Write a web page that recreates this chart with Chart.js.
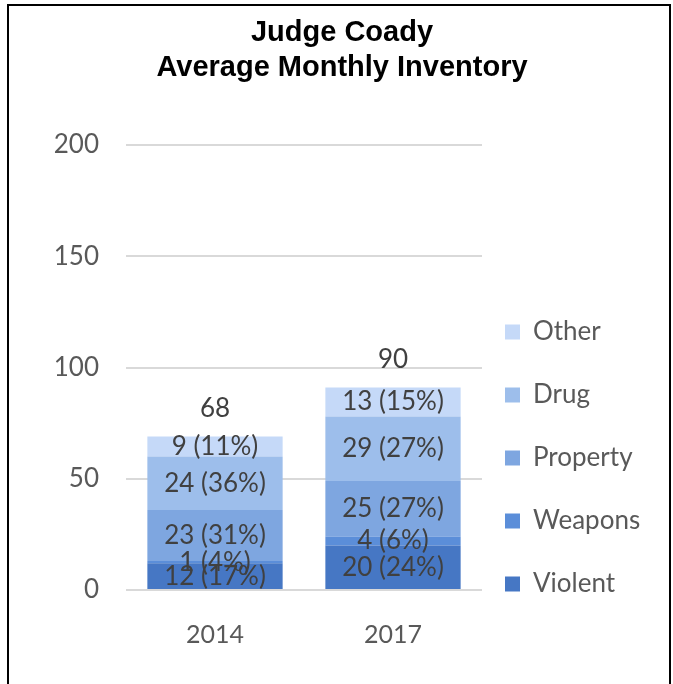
<!DOCTYPE html>
<html><head><meta charset="utf-8">
<script src="https://cdn.jsdelivr.net/npm/chart.js@4.4.1/dist/chart.umd.min.js"></script>
<style>
html,body{margin:0;padding:0;background:#fff;overflow:hidden;width:673px;height:684px}
#frame{position:absolute;left:7px;top:4px;width:660px;height:720px;border-left:2px solid #000;border-top:2px solid #000;border-right:2px solid #000;}
#wrap{position:absolute;left:0;top:0;width:673px;height:684px}
</style></head><body>
<div id="frame"></div>
<div id="wrap"><canvas id="c" width="673" height="684"></canvas></div>
<script>
// ---- data ----
const categories = ['2014', '2017'];
const seriesNames = ['Violent', 'Weapons', 'Property', 'Drug', 'Other'];
const violent  = [12, 20];
const weapons  = [1, 4];
const property = [23, 25];
const drug     = [24, 29];
const other    = [9, 13];
const violentPct  = [17, 24];
const weaponsPct  = [4, 6];
const propertyPct = [31, 27];
const drugPct     = [36, 27];
const otherPct    = [11, 15];
const totals = [68, 90];
const yTicks = [0, 50, 100, 150, 200];

const colors = ['#4677C4', '#5B8ED9', '#7EA6E0', '#9DBEEB', '#C5D9F8'];
const values = [violent, weapons, property, drug, other];
const pcts = [violentPct, weaponsPct, propertyPct, drugPct, otherPct];

const LBL_FONT = 'Lato, "Open Sans", sans-serif';

const segLabels = {
  id: 'segLabels',
  afterDatasetsDraw(chart) {
    const ctx = chart.ctx;
    ctx.save();
    ctx.font = '26px ' + LBL_FONT;
    ctx.fillStyle = '#404040';
    ctx.textAlign = 'center';
    ctx.textBaseline = 'middle';
    chart.data.datasets.forEach((ds, di) => {
      const meta = chart.getDatasetMeta(di);
      meta.data.forEach((bar, i) => {
        const p = bar.getProps(['x', 'y', 'base'], true);
        ctx.fillText(values[di][i] + ' (' + pcts[di][i] + '%)', p.x, (p.y + p.base) / 2);
      });
    });
    const topMeta = chart.getDatasetMeta(chart.data.datasets.length - 1);
    topMeta.data.forEach((bar, i) => {
      const p = bar.getProps(['x', 'y'], true);
      ctx.fillText(String(totals[i]), p.x, p.y - 28);
    });
    ctx.restore();
  }
};

const legendPos = {
  id: 'legendPos',
  afterLayout(chart) {
    const l = chart.legend;
    if (!l) return;
    l.left = 468; l.right = 673; l.width = l.right - l.left;
    l.top = 282; l.bottom = 684; l.height = l.bottom - l.top;
  }
};

new Chart(document.getElementById('c'), {
  type: 'bar',
  data: {
    labels: categories,
    datasets: seriesNames.map((n, i) => ({
      label: n,
      data: values[i],
      backgroundColor: colors[i],
      borderWidth: 0,
      categoryPercentage: 1,
      barPercentage: 0.76
    }))
  },
  plugins: [segLabels, legendPos],
  options: {
    responsive: false,
    animation: false,
    devicePixelRatio: 1,
    layout: { padding: { left: 47, right: 36, top: 0, bottom: 0 } },
    plugins: {
      title: {
        display: true,
        text: ['Judge Coady', 'Average Monthly Inventory'],
        color: '#000',
        font: { family: '"Liberation Sans", Arial, sans-serif', size: 29, weight: 'bold', lineHeight: 1.2 },
        padding: { top: 15.5, bottom: 60 }
      },
      legend: {
        position: 'right',
        align: 'start',
        reverse: true,
        maxWidth: 155,
        labels: {
          boxWidth: 15, boxHeight: 15, padding: 37,
          color: '#595959',
          font: { family: LBL_FONT, size: 26 }
        }
      },
      tooltip: { enabled: false }
    },
    scales: {
      x: {
        stacked: true,
        grid: { display: false, drawTicks: false },
        border: { display: false },
        ticks: { color: '#595959', font: { family: LBL_FONT, size: 25 }, padding: 30 },
        afterFit(s) { s.height = 94; }
      },
      y: {
        stacked: true,
        min: 0, max: 200,
        afterBuildTicks(s) { s.ticks = yTicks.map(v => ({ value: v })); },
        ticks: { color: '#595959', font: { family: LBL_FONT, size: 26 }, padding: 27 },
        grid: { color: '#d9d9d9', lineWidth: 2, drawTicks: false },
        border: { display: false },
        afterFit(s) { s.width = 79; }
      }
    }
  }
});
</script>
</body></html>
